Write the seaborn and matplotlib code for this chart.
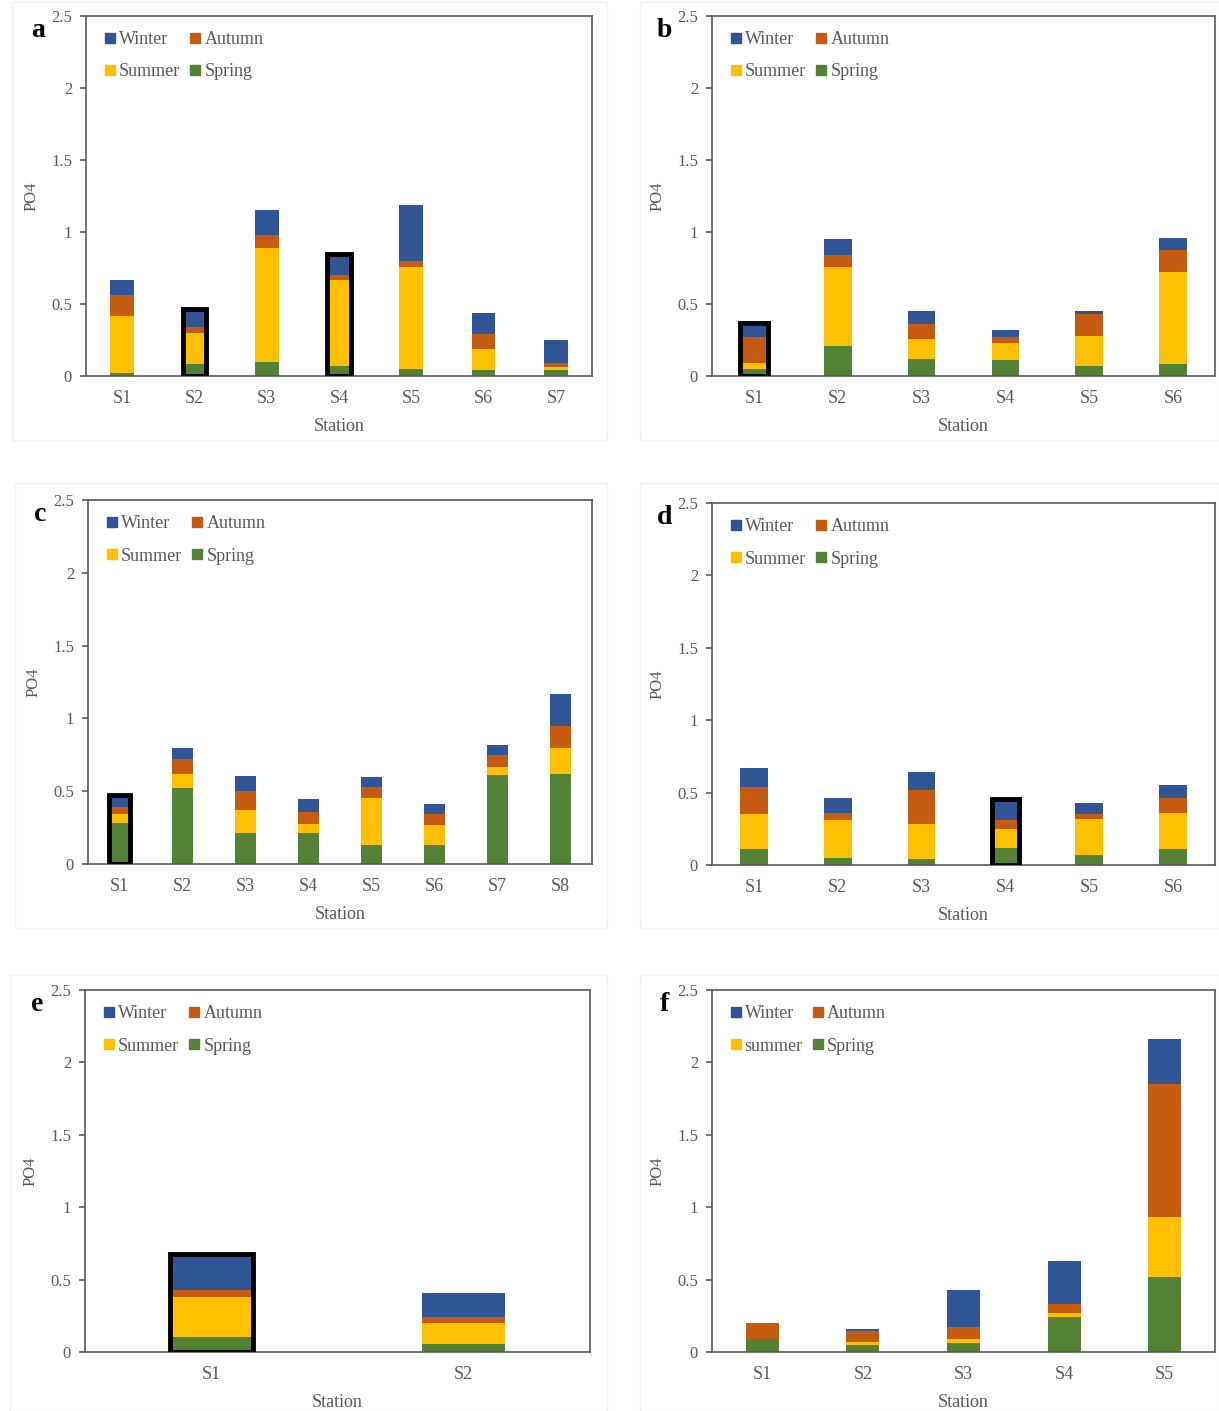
import numpy as np
import pandas as pd
import matplotlib
matplotlib.use("Agg")
import matplotlib.pyplot as plt
from matplotlib.lines import Line2D
from matplotlib.patches import Rectangle
from matplotlib.ticker import FuncFormatter, FixedLocator
import seaborn as sns

# ---- data, seasons stacked Spring -> Summer -> Autumn -> Winter
stations_a = ["S1", "S2", "S3", "S4", "S5", "S6", "S7"]
spring_a = [0.02, 0.08, 0.10, 0.07, 0.05, 0.04, 0.04]
summer_a = [0.40, 0.22, 0.79, 0.60, 0.71, 0.15, 0.025]
autumn_a = [0.14, 0.04, 0.09, 0.03, 0.04, 0.10, 0.025]
winter_a = [0.11, 0.11, 0.17, 0.13, 0.39, 0.15, 0.16]
boxed_a = [1, 3]

stations_b = ["S1", "S2", "S3", "S4", "S5", "S6"]
spring_b = [0.05, 0.21, 0.12, 0.11, 0.07, 0.08]
summer_b = [0.04, 0.545, 0.135, 0.12, 0.21, 0.64]
autumn_b = [0.18, 0.085, 0.105, 0.04, 0.15, 0.155]
winter_b = [0.08, 0.11, 0.09, 0.05, 0.02, 0.085]
boxed_b = [0]

stations_c = ["S1", "S2", "S3", "S4", "S5", "S6", "S7", "S8"]
spring_c = [0.28, 0.52, 0.21, 0.21, 0.13, 0.13, 0.61, 0.62]
summer_c = [0.06, 0.10, 0.16, 0.065, 0.32, 0.14, 0.055, 0.18]
autumn_c = [0.05, 0.10, 0.13, 0.085, 0.08, 0.07, 0.085, 0.145]
winter_c = [0.07, 0.08, 0.105, 0.085, 0.07, 0.07, 0.07, 0.22]
boxed_c = [0]

stations_d = ["S1", "S2", "S3", "S4", "S5", "S6"]
spring_d = [0.11, 0.05, 0.04, 0.115, 0.07, 0.11]
summer_d = [0.245, 0.26, 0.245, 0.135, 0.25, 0.25]
autumn_d = [0.185, 0.05, 0.235, 0.06, 0.035, 0.105]
winter_d = [0.13, 0.10, 0.12, 0.13, 0.075, 0.085]
boxed_d = [3]

stations_e = ["S1", "S2"]
spring_e = [0.105, 0.055]
summer_e = [0.275, 0.145]
autumn_e = [0.05, 0.045]
winter_e = [0.23, 0.16]
boxed_e = [0]

stations_f = ["S1", "S2", "S3", "S4", "S5"]
spring_f = [0.09, 0.045, 0.06, 0.24, 0.52]
summer_f = [0.0, 0.025, 0.03, 0.03, 0.415]
autumn_f = [0.11, 0.075, 0.08, 0.06, 0.915]
winter_f = [0.0, 0.012, 0.255, 0.30, 0.31]
boxed_f = []

season_colors = {"Winter": "#2F5597", "Autumn": "#C55A11",
                 "Summer": "#FFC000", "Spring": "#548235"}
grey = "#595959"

sns.set_style("white")
plt.rcParams["font.family"] = ["Liberation Serif", "DejaVu Serif"]

fig = plt.figure(figsize=(12.19, 14.11), dpi=100)
W, H = 1219, 1411

# faint panel frames (pixel boxes)
frames = [(12, 2, 607, 440), (640, 2, 1219, 440), (15, 483, 607, 928),
          (640, 483, 1219, 928), (10, 975, 607, 1411), (640, 975, 1219, 1411)]
for x0, y0, x1, y1 in frames:
    fig.patches.append(Rectangle((x0 / W, 1 - y1 / H), (x1 - x0) / W, (y1 - y0) / H,
                                 transform=fig.transFigure, facecolor="white",
                                 edgecolor="#f2f2f2", lw=1, zorder=-10))


def panel(box, letter, stations, spring, summer, autumn, winter, boxed, summer_name="Summer"):
    x0, y0, x1, y1 = box
    ax = fig.add_axes([x0 / W, 1 - y1 / H, (x1 - x0) / W, (y1 - y0) / H])
    df = pd.DataFrame({"Station": stations, "Spring": spring, "Summer": summer,
                       "Autumn": autumn, "Winter": winter})
    cum = df[["Spring", "Summer", "Autumn", "Winter"]].cumsum(axis=1)
    bw = 0.33
    # draw cumulative tops from largest to smallest so they stack visually
    for s in ["Winter", "Autumn", "Summer", "Spring"]:
        sns.barplot(x=df["Station"], y=cum[s], color=season_colors[s], ax=ax,
                    width=bw, saturation=1, linewidth=0, errorbar=None)
    for i in boxed:
        top = cum["Winter"].iloc[i] + 0.015
        ax.add_patch(Rectangle((i - bw / 2, 0), bw, top, fill=False,
                               edgecolor="black", lw=3.5, zorder=5))
    ax.set_ylim(0, 2.5)
    ax.set_xlim(-0.5, len(stations) - 0.5)
    ax.yaxis.set_major_locator(FixedLocator([0, 0.5, 1, 1.5, 2, 2.5]))
    ax.yaxis.set_major_formatter(FuncFormatter(lambda v, p: f"{v:g}"))
    ax.set_xticks(range(len(stations)))
    ax.set_xticklabels(stations)
    ax.set_xticks(np.arange(-0.5, len(stations), 1.0), minor=True)
    ax.tick_params(axis="x", which="major", length=0, pad=10, labelsize=13, labelcolor=grey)
    ax.tick_params(axis="x", which="minor", length=5, width=1.2, color=grey, direction="out")
    ax.tick_params(axis="y", length=4, width=1.2, color=grey, direction="out",
                   labelsize=12, labelcolor=grey, pad=6, left=True)
    for sp in ax.spines.values():
        sp.set_visible(True)
        sp.set_color(grey)
        sp.set_linewidth(1.2)
    ax.set_xlabel("Station", fontsize=13, color=grey, labelpad=8)
    ax.set_ylabel("PO4", fontsize=12, color=grey, labelpad=8)
    ax.text(-0.095, 0.96, letter, transform=ax.transAxes, fontsize=20,
            fontweight="bold", ha="center", va="center", color="black")
    names = ["Winter", summer_name, "Autumn", "Spring"]
    keys = ["Winter", "Summer", "Autumn", "Spring"]
    handles = [Line2D([], [], marker="s", ls="", markersize=7,
                      color=season_colors[k]) for k in keys]
    leg = ax.legend(handles, names, ncol=2, loc="upper left",
                    bbox_to_anchor=(0.022, 0.978), borderaxespad=0, frameon=False,
                    fontsize=13, handlelength=0.6, handletextpad=0.2,
                    columnspacing=0.55, labelspacing=0.85)
    for t in leg.get_texts():
        t.set_color(grey)
    return ax


panel((86, 16, 592, 376), "a", stations_a, spring_a, summer_a, autumn_a, winter_a, boxed_a)
panel((712, 16, 1215, 376), "b", stations_b, spring_b, summer_b, autumn_b, winter_b, boxed_b)
panel((88, 500, 592, 864), "c", stations_c, spring_c, summer_c, autumn_c, winter_c, boxed_c)
panel((712, 503, 1215, 865), "d", stations_d, spring_d, summer_d, autumn_d, winter_d, boxed_d)
panel((85, 990, 590, 1352), "e", stations_e, spring_e, summer_e, autumn_e, winter_e, boxed_e)
panel((712, 990, 1215, 1352), "f", stations_f, spring_f, summer_f, autumn_f, winter_f, boxed_f,
      summer_name="summer")

fig.savefig("out.png", dpi=100)
